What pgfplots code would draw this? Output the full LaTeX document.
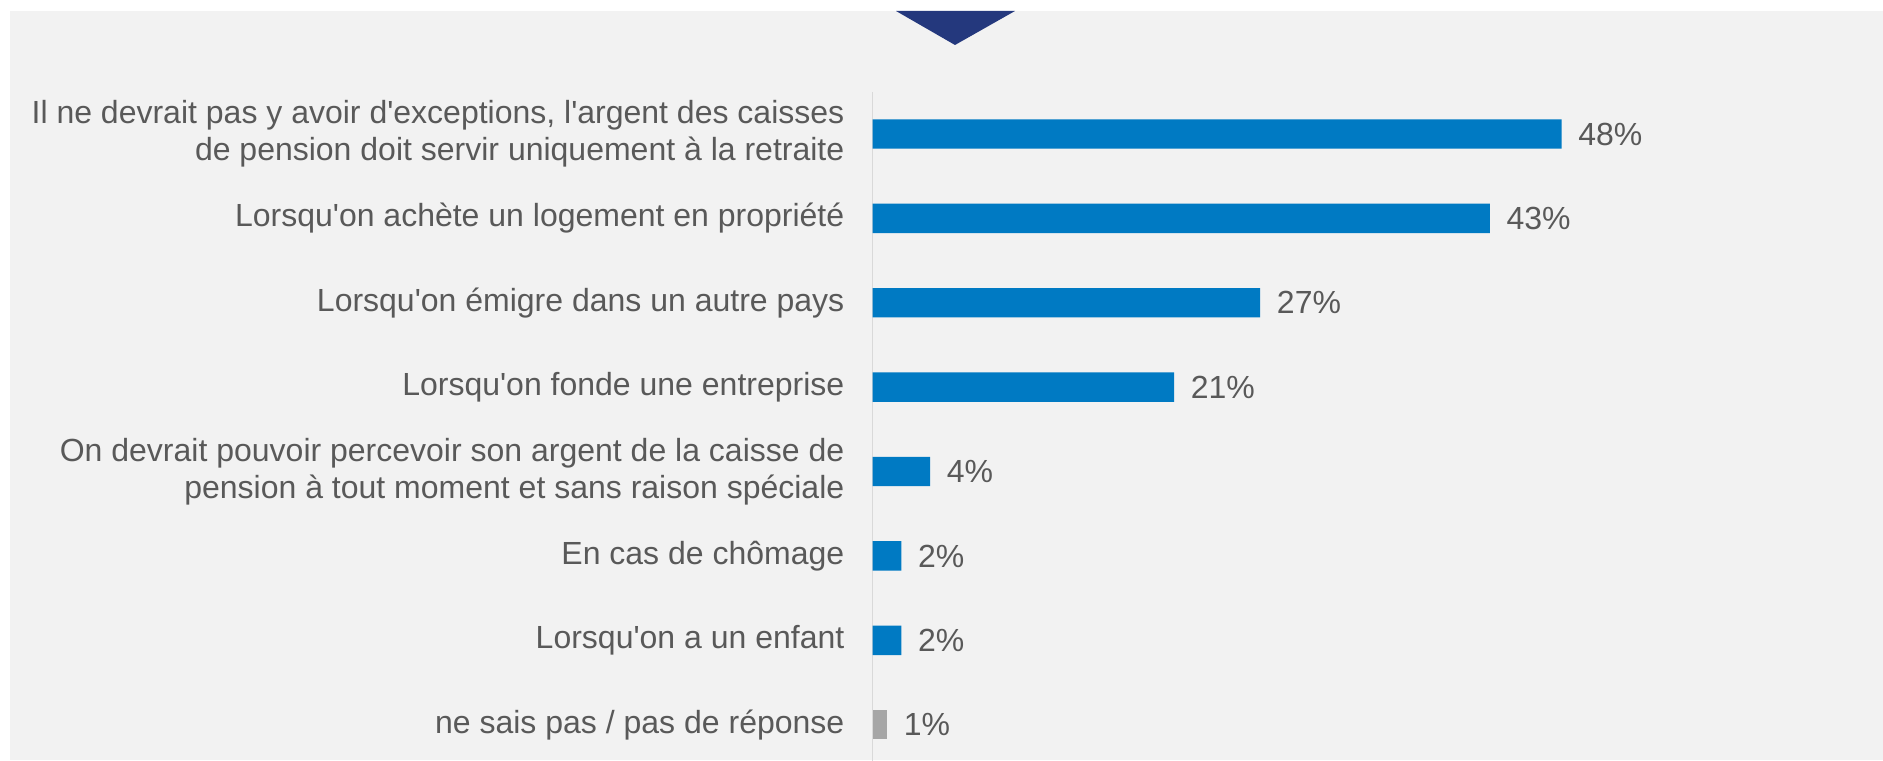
\documentclass[border=0pt]{standalone}
\usepackage{fontspec}
\setmainfont{Liberation Sans}[Ligatures=TeXOff]
\usepackage{pgfplots}
\pgfplotsset{compat=1.18}
\definecolor{bg}{HTML}{F2F2F2}
\definecolor{barblue}{HTML}{007AC3}
\definecolor{bargray}{HTML}{A6A6A6}
\definecolor{txt}{HTML}{595959}
\definecolor{navy}{HTML}{24387D}
\definecolor{axline}{HTML}{D9D9D9}
\begin{document}
\begin{tikzpicture}
\useasboundingbox (0,0) rectangle (941.5pt,380pt);
\fill[white] (0,0) rectangle (941.5pt,380pt);
\fill[bg] (5pt,0) rectangle (941.5pt,374.5pt);
\fill[navy] (448pt,374.5pt) -- (507.5pt,374.5pt) -- (477.5pt,357.5pt) -- cycle;
\begin{axis}[
  at={(436.35pt,334.1pt)}, anchor=north west,
  scale only axis, width=502.25pt, height=337.56pt,
  xmin=0, xmax=70, ymin=-0.5, ymax=7.5, y dir=reverse,
  enlargelimits=false, clip=false,
  axis line style={draw=none}, tick style={draw=none}, major tick length=0pt,
  xtick=\empty,
  ytick={0,1,2,3,4,5,6,7},
  yticklabels={{Il ne devrait pas y avoir d'exceptions, l'argent des caisses\\de pension doit servir uniquement à la retraite},
    {Lorsqu'on achète un logement en propriété},
    {Lorsqu'on émigre dans un autre pays},
    {Lorsqu'on fonde une entreprise},
    {On devrait pouvoir percevoir son argent de la caisse de\\pension à tout moment et sans raison spéciale},
    {En cas de chômage},
    {Lorsqu'on a un enfant},
    {ne sais pas / pas de réponse}},
  yticklabel style={font=\fontsize{16}{18.4}\selectfont, text=txt, align=right, anchor=east, inner sep=0pt, xshift=-14pt},
  /pgf/number format/assume math mode=true,
  point meta=x,
  nodes near coords={\pgfmathprintnumber{\pgfplotspointmeta}\%},
  nodes near coords style={font=\fontsize{16}{18.4}\selectfont, text=txt, anchor=west, inner sep=0pt, xshift=8.2pt},
]
\draw[axline, line width=0.6pt] (axis cs:0,-0.5) -- (axis cs:0,7.6);
\addplot[xbar, bar width=14.7pt, bar shift=0pt, fill=barblue, draw=none]
  coordinates {(48,0) (43,1) (27,2) (21,3) (4,4) (2,5) (2,6)};
\addplot[xbar, bar width=14.7pt, bar shift=0pt, fill=bargray, draw=none]
  coordinates {(1,7)};
\end{axis}
\end{tikzpicture}
\end{document}
